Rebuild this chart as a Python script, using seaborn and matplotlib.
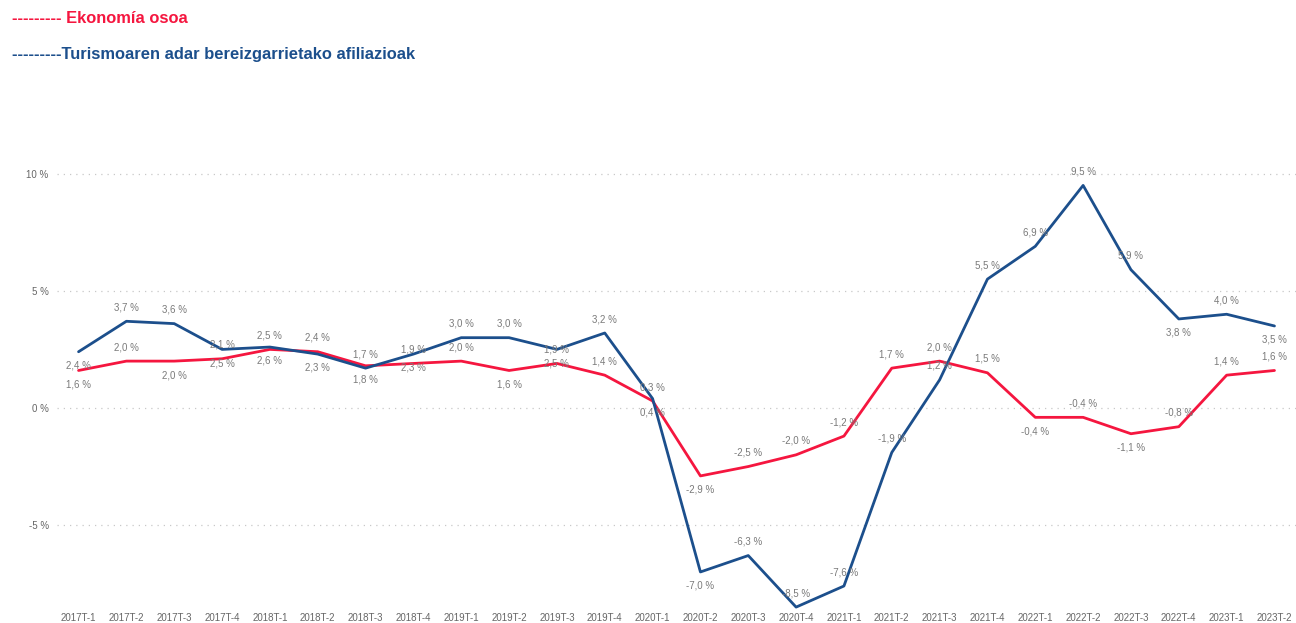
import numpy as np
import pandas as pd
import matplotlib
matplotlib.use("Agg")
import matplotlib.pyplot as plt
import seaborn as sns

# ====== DATA ======
periods = [f"{y}T-{q}" for y in range(2017, 2024) for q in range(1, 5)][:26]

ekonomia = [1.6, 2.0, 2.0, 2.1, 2.5, 2.4, 1.8, 1.9, 2.0, 1.6, 1.9, 1.4, 0.3,
            -2.9, -2.5, -2.0, -1.2, 1.7, 2.0, 1.5, -0.4, -0.4, -1.1, -0.8, 1.4, 1.6]
turismoa = [2.4, 3.7, 3.6, 2.5, 2.6, 2.3, 1.7, 2.3, 3.0, 3.0, 2.5, 3.2, 0.4,
            -7.0, -6.3, -8.5, -7.6, -1.9, 1.2, 5.5, 6.9, 9.5, 5.9, 3.8, 4.0, 3.5]

# label side: 1 = above, -1 = below
ekon_side = [-1, 1, -1, 1, 1, 1, -1, 1, 1, -1, 1, 1, 1,
             -1, 1, 1, 1, 1, 1, 1, -1, 1, -1, 1, 1, 1]
turi_side = [-1, 1, 1, -1, -1, -1, 1, -1, 1, 1, -1, 1, -1,
             -1, 1, 1, 1, 1, 1, 1, 1, 1, 1, -1, 1, -1]

name_ekon = "Ekonomía osoa"
name_turi = "Turismoaren adar bereizgarrietako afiliazioak"
red = "#F5163F"
blue = "#1C4F8C"

df = pd.DataFrame({
    "periodoa": periods * 2,
    "x": list(range(len(periods))) * 2,
    "balioa": ekonomia + turismoa,
    "seriea": [name_ekon] * len(periods) + [name_turi] * len(periods),
})

# ====== PLOT ======
sns.set_style("white")
plt.rcParams["font.family"] = ["Liberation Sans", "DejaVu Sans"]

fig = plt.figure(figsize=(12.96, 6.23), dpi=100)
ax = fig.add_axes([0.044, 0.018, 0.956, 0.722])

sns.lineplot(data=df, x="x", y="balioa", hue="seriea",
             palette={name_ekon: red, name_turi: blue},
             hue_order=[name_ekon, name_turi],
             linewidth=2.0, legend=False, ax=ax)


def fmt(v):
    return f"{v:.1f}".replace(".", ",") + " %"


for vals, sides in [(ekonomia, ekon_side), (turismoa, turi_side)]:
    for i, (v, s) in enumerate(zip(vals, sides)):
        ax.annotate(fmt(v), (i, v), xytext=(0, 10 * s), textcoords="offset points",
                    ha="center", va="center", fontsize=7, color="#7a7a7a")

ax.set_xlim(-0.45, len(periods) - 0.55)
ax.set_ylim(-8.7, 10.5)
ax.set_xticks(range(len(periods)))
ax.set_xticklabels(periods)
ax.set_yticks([-5, 0, 5, 10])
ax.set_yticklabels(["-5 %", "0 %", "5 %", "10 %"])
ax.tick_params(axis="x", labelsize=7, colors="#666666", length=0, pad=1)
ax.tick_params(axis="y", labelsize=7, colors="#666666", length=0, pad=6)
ax.yaxis.grid(True, linestyle=(0, (1, 4)), color="#c8c8c8", linewidth=0.9)
ax.xaxis.grid(False)
for sp in ax.spines.values():
    sp.set_visible(False)
ax.set_xlabel("")
ax.set_ylabel("")

fig.text(0.009, 0.971, "--------- " + name_ekon, color=red, fontsize=11.9,
         fontweight="bold", ha="left", va="center")
fig.text(0.009, 0.913, "---------" + name_turi, color=blue, fontsize=11.9,
         fontweight="bold", ha="left", va="center")

fig.savefig("out.png", dpi=100)
